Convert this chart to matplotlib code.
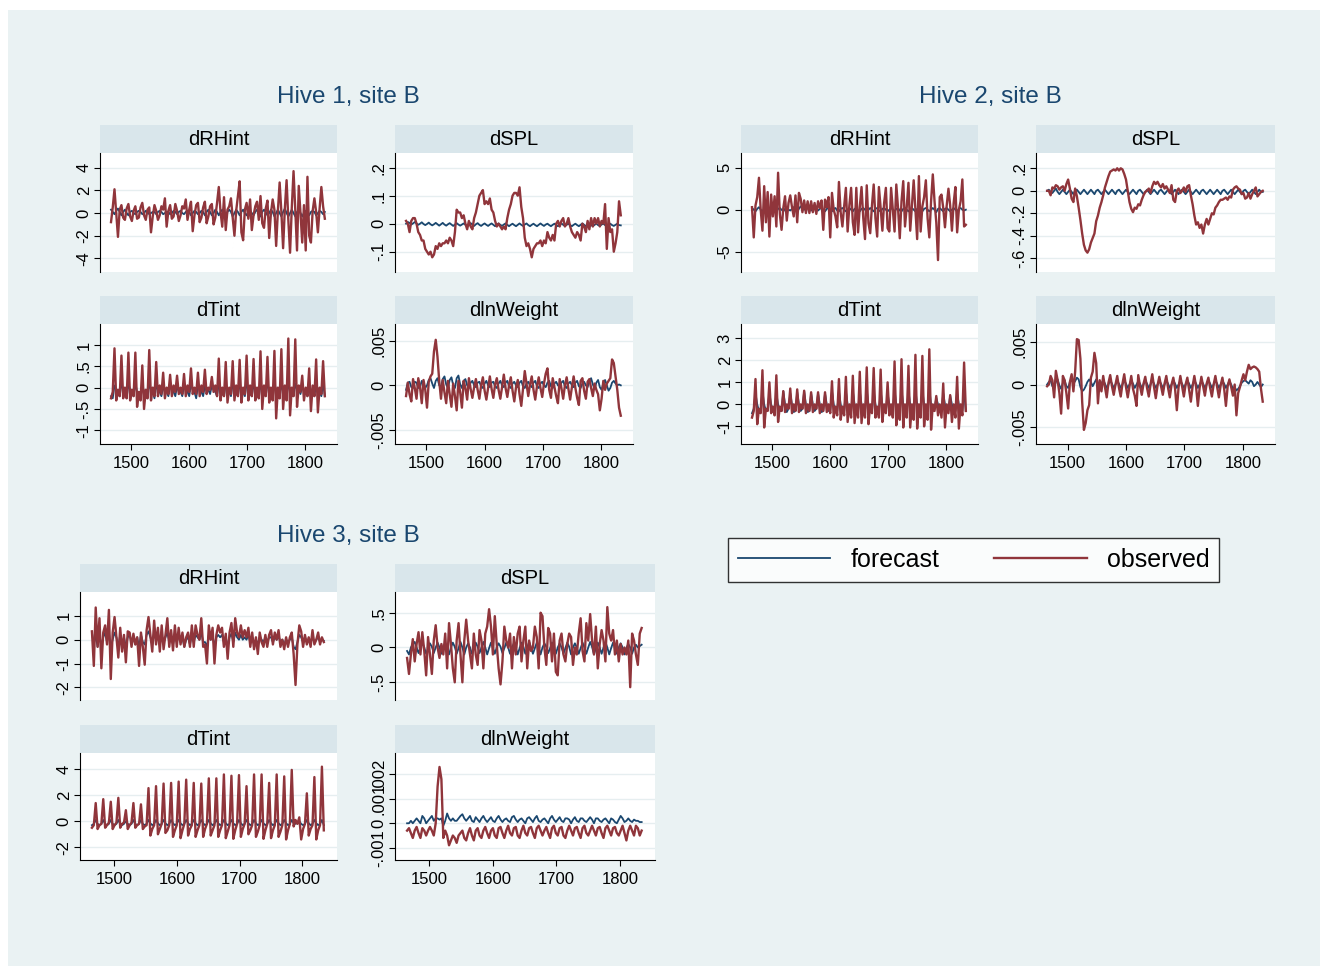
import matplotlib
matplotlib.use("Agg")
import matplotlib.pyplot as plt
from matplotlib.lines import Line2D
from matplotlib.patches import Rectangle
import numpy as np

plt.rcParams['font.family'] = ['Liberation Sans', 'DejaVu Sans']

W, H = 1322, 968
BG = "#eaf2f3"
STRIP = "#d9e6eb"
GRID = "#e6eef0"
C_FC = "#1a476f"
C_OB = "#90353b"

time = list(range(1465, 1835, 3))  # 124 observations

# ---------------- Hive 1 ----------------
h1_drhint_obs = [
 -0.8, 0.5, 2.1, 0.0, -2.1, 0.3, 0.7, -0.4, -0.6, 0.4, 0.8, -0.3, -0.7, 0.2, 0.6, -0.5,
 -0.4, 0.5, 0.9, -0.2, -0.6, 0.3, 0.5, -1.7, -0.3, 0.7, 0.2, -0.6, -0.2, 0.6, 0.3, 1.3,
 -1.2, 0.2, 0.7, -0.5, -0.3, 0.8, 0.2, -0.7, -0.2, 0.6, 0.4, 1.2, -0.6, 0.3, 1.0, -1.6,
 -0.2, 0.7, 0.9, -0.8, -0.4, 0.5, 1.0, -0.9, -0.3, 0.6, 0.8, -1.0, -0.4, 0.9, 2.3, 0.1,
 -1.2, 1.4, -1.5, 0.3, 0.6, 1.3, -0.4, -2.0, 0.2, 1.5, 2.8, -1.7, -2.4, 0.3, 0.9, -0.5,
 1.2, -1.5, -0.2, 0.6, 1.0, -0.6, 1.5, -0.9, -1.3, 0.4, 1.1, -2.2, 0.0, 1.2, 0.3, -2.9,
 0.2, 2.7, 0.1, -3.1, 0.4, 2.9, -0.6, -3.5, 0.5, 3.7, 0.3, -3.3, 2.4, 0.0, -2.6, 0.7,
 -3.3, 3.2, -2.0, -2.6, 0.2, 1.3, 0.1, -1.7, 0.4, 2.3, 0.6, -0.5]
h1_drhint_fc = [
 0.3, 0.1, -0.1, 0.2, 0.4, 0.1, -0.2, 0.1, 0.3, 0.0, -0.2, 0.1, 0.2, 0.0, -0.1, 0.1,
 0.2, 0.1, -0.1, 0.0, 0.2, 0.1, -0.1, 0.0, 0.1, 0.1, -0.1, 0.1, 0.2, 0.1, -0.1, 0.0,
 0.1, 0.1, -0.1, 0.0, 0.2, 0.1, -0.1, 0.1, 0.2, 0.0, -0.1, 0.1, 0.2, 0.1, -0.2, 0.0,
 0.2, 0.1, -0.1, 0.0, 0.2, 0.1, -0.2, 0.1, 0.3, 0.1, -0.2, 0.0, 0.3, 0.1, -0.2, 0.1,
 0.3, 0.0, -0.2, 0.1, 0.3, 0.1, -0.3, 0.0, 0.3, 0.1, -0.2, 0.1, 0.3, 0.0, -0.2, 0.1,
 0.2, 0.0, -0.2, 0.1, 0.3, 0.0, -0.3, 0.1, 0.3, 0.1, -0.2, 0.0, 0.3, 0.1, -0.3, 0.0,
 0.3, 0.0, -0.3, 0.1, 0.4, 0.0, -0.3, 0.0, 0.3, 0.0, -0.3, 0.1, 0.3, 0.0, -0.3, 0.0,
 0.2, 0.0, -0.2, 0.1, 0.2, 0.1, -0.2, 0.0, 0.2, 0.1, -0.1, 0.1]
h1_dspl_obs = [
 0.01, 0.00, -0.03, 0.01, 0.02, 0.02, 0.00, -0.03, -0.04, -0.06, -0.06, -0.09,
 -0.10, -0.11, -0.10, -0.12, -0.11, -0.08, -0.09, -0.07, -0.08, -0.07, -0.07, -0.06,
 -0.07, -0.05, -0.06, -0.08, -0.03, 0.05, 0.04, 0.04, 0.02, 0.03, 0.00, -0.02,
 0.01, -0.01, -0.02, 0.02, 0.04, 0.07, 0.10, 0.11, 0.12, 0.07, 0.08, 0.07,
 0.09, 0.05, 0.04, 0.01, -0.01, 0.00, -0.01, -0.02, -0.01, -0.02, 0.02, 0.05,
 0.07, 0.10, 0.11, 0.11, 0.10, 0.13, 0.06, 0.02, -0.05, -0.08, -0.07, -0.09,
 -0.12, -0.09, -0.08, -0.07, -0.07, -0.06, -0.08, -0.06, -0.07, -0.03, -0.05, -0.06,
 -0.04, -0.06, 0.00, 0.01, -0.01, 0.01, 0.02, -0.01, 0.00, 0.02, -0.01, -0.03,
 -0.04, -0.05, -0.03, -0.04, -0.06, 0.00, -0.01, -0.03, 0.01, -0.02, 0.02, -0.01,
 0.02, 0.00, 0.02, -0.01, 0.01, 0.00, 0.07, -0.09, 0.02, -0.03, -0.02, -0.10,
 -0.07, -0.03, 0.08, 0.03]
h1_dspl_fc = [
 0.000, 0.006, 0.003, -0.003, 0.001, 0.006, 0.001, -0.004, 0.000, 0.005, -0.001, -0.005,
 -0.001, 0.004, -0.002, -0.006, -0.002, 0.003, -0.002, -0.007, -0.002, 0.003, -0.003, -0.007,
 -0.002, 0.002, -0.003, -0.008, -0.003, 0.002, -0.003, -0.007, -0.003, 0.001, -0.004, -0.008,
 -0.003, 0.002, -0.003, -0.008, -0.002, 0.002, -0.004, -0.008, -0.003, 0.001, -0.004, -0.008,
 -0.003, 0.001, -0.004, -0.009, -0.004, 0.001, -0.004, -0.008, -0.003, 0.001, -0.004, -0.009,
 -0.004, 0.000, -0.005, -0.009, -0.004, 0.001, -0.004, -0.008, -0.003, 0.001, -0.005, -0.009,
 -0.004, 0.000, -0.005, -0.009, -0.004, 0.001, -0.004, -0.008, -0.003, 0.000, -0.005, -0.009,
 -0.004, 0.000, -0.005, -0.009, -0.004, 0.001, -0.004, -0.008, -0.004, 0.000, -0.005, -0.009,
 -0.004, 0.000, -0.005, -0.009, -0.004, 0.001, -0.004, -0.009, -0.004, 0.000, -0.005, -0.009,
 -0.004, 0.000, -0.005, -0.008, -0.003, 0.000, -0.005, -0.009, -0.004, 0.000, -0.005, -0.008,
 -0.004, 0.000, -0.005, -0.006]
h1_dtint_obs = [
 -0.25, -0.1, 0.92, -0.3, -0.05, -0.2, 0.75, -0.25, 0.0, -0.25, 0.82, -0.3,
 -0.05, -0.2, 0.82, -0.45, -0.1, -0.3, 0.52, -0.5, -0.05, -0.25, 0.88, -0.3,
 0.0, -0.2, 0.6, -0.2, 0.05, -0.15, 0.35, -0.25, 0.0, -0.15, 0.3, -0.2,
 0.05, -0.1, 0.28, -0.15, 0.0, -0.15, 0.32, -0.2, 0.05, -0.1, 0.45, -0.15,
 0.0, -0.15, 0.35, -0.2, 0.05, -0.1, 0.42, -0.15, 0.0, -0.05, 0.25, -0.1,
 0.05, -0.2, 0.68, -0.3, 0.0, -0.2, 0.6, -0.35, 0.0, -0.15, 0.62, -0.3,
 0.05, -0.2, 0.65, -0.35, 0.0, -0.15, 0.75, -0.3, 0.05, -0.2, 0.67, -0.3,
 0.0, -0.25, 0.85, -0.5, 0.05, -0.2, 0.72, -0.35, 0.0, -0.3, 0.86, -0.72,
 0.0, -0.25, 0.9, -0.5, 0.05, -0.3, 1.15, -0.65, 0.0, -0.2, 1.13, -0.45,
 0.05, -0.1, 0.28, -0.3, 0.0, -0.2, 0.45, -0.55, 0.05, -0.2, 0.66, -0.58,
 0.0, -0.15, 0.62, -0.2]
h1_dtint_fc = [
 -0.2, -0.25, 0.05, -0.05, -0.15, -0.2, 0.1, -0.05, -0.15, -0.25, 0.1, -0.05,
 -0.15, -0.2, 0.1, -0.1, -0.15, -0.25, 0.05, -0.1, -0.15, -0.25, 0.1, -0.05,
 -0.1, -0.25, 0.05, -0.05, -0.1, -0.2, 0.05, -0.1, -0.1, -0.2, 0.05, -0.05,
 -0.1, -0.2, 0.05, -0.1, -0.1, -0.2, 0.05, -0.05, -0.1, -0.2, 0.1, -0.05,
 -0.1, -0.25, 0.05, -0.05, -0.1, -0.2, 0.05, -0.1, -0.05, -0.15, 0.05, -0.05,
 -0.1, -0.2, 0.1, -0.05, -0.1, -0.2, 0.1, -0.1, -0.1, -0.2, 0.1, -0.05,
 -0.1, -0.2, 0.1, -0.1, -0.1, -0.2, 0.1, -0.05, -0.1, -0.2, 0.1, -0.1,
 -0.1, -0.25, 0.1, -0.1, -0.1, -0.2, 0.1, -0.05, -0.1, -0.25, 0.15, -0.1,
 -0.1, -0.25, 0.1, -0.1, -0.1, -0.25, 0.15, -0.1, -0.1, -0.2, 0.1, -0.05,
 -0.05, -0.15, 0.05, -0.1, -0.1, -0.2, 0.1, -0.1, -0.1, -0.2, 0.1, -0.05,
 -0.1, -0.2, 0.1, -0.2]
# dlnWeight values in units of 0.001
h1_dlnw_obs_e3 = [
 -1.2, 0.3, -1.0, -1.8, 0.7, -0.3, -1.5, 0.8, -0.2, -2.0, 0.6, -0.5,
 -2.5, 0.4, 1.0, 1.3, 3.8, 5.1, 3.2, 0.5, -1.5, 0.6, -0.8, -2.0,
 0.5, -1.0, -2.4, 0.2, -1.2, -2.8, 0.5, -0.8, -2.5, 0.5, -0.3, -1.6,
 0.8, -0.4, -1.4, -0.2, 0.7, -0.5, -1.5, 0.0, 0.9, -0.6, -1.6, -0.3,
 1.0, -0.4, -1.4, 0.1, 0.8, -0.5, -1.5, -0.2, 1.2, -0.3, -1.3, 0.0,
 0.9, -0.6, -1.8, -0.2, 0.6, -1.0, -2.3, -0.4, 1.6, 0.2, -1.2, 0.1,
 1.0, -0.5, -1.6, -0.1, 0.9, -0.3, -1.3, 0.2, 1.3, 1.9, -0.5, -1.4,
 0.8, -0.2, -1.2, -2.0, 0.7, -0.3, -1.5, 0.0, 0.9, -0.4, -1.6, -0.2,
 1.0, -0.3, -1.4, -2.2, 0.5, 0.8, -0.6, -1.5, 0.4, 0.7, -0.3, -1.2,
 0.2, -0.5, -1.0, -2.8, -1.5, 0.5, -0.5, 0.2, 0.5, 0.8, 2.9, 2.5,
 1.0, -0.5, -2.5, -3.4]
h1_dlnw_fc_e3 = [
 -0.5, 0.3, 0.4, -0.2, -0.3, 0.4, 0.3, -0.3, -0.2, 0.5, 0.2, -0.3,
 0.0, 0.6, 0.8, 0.2, -0.3, 0.5, 0.8, 0.0, -0.2, 0.7, 1.0, 0.1,
 -0.3, 0.6, 0.9, 0.0, -0.3, 0.8, 1.1, 0.1, -0.3, 0.5, 0.7, 0.0,
 -0.3, 0.3, 0.5, 0.0, -0.2, 0.3, 0.4, -0.1, -0.3, 0.2, 0.5, 0.0,
 -0.2, 0.3, 0.4, -0.1, -0.3, 0.2, 0.5, 0.0, -0.2, 0.3, 0.5, -0.1,
 -0.3, 0.2, 0.4, 0.0, -0.2, 0.3, 0.5, -0.1, -0.3, 0.2, 0.4, 0.0,
 -0.2, 0.3, 0.5, -0.1, -0.3, 0.2, 0.4, 0.0, -0.2, 0.3, 0.5, -0.1,
 -0.3, 0.2, 0.4, 0.0, -0.2, 0.3, 0.5, -0.1, -0.3, 0.2, 0.4, 0.0,
 -0.2, 0.3, 0.5, -0.1, -0.3, 0.2, 0.4, 0.0, -0.2, 0.5, 0.8, 0.1,
 -0.4, 0.3, 0.6, -0.2, -0.5, 0.2, 0.6, 0.0, -0.6, -0.3, 0.3, 0.5,
 0.2, 0.0, 0.1, 0.0]

# ---------------- Hive 2 ----------------
h2_drhint_obs = [
 0.3, -3.3, 0.5, 1.5, 3.8, 0.0, -2.5, 2.8, -1.5, 2.1, -3.2, 1.8,
 -0.8, 1.6, -2.0, 4.4, -0.5, -2.4, 0.2, 1.6, -1.3, 0.8, 1.7, 0.3,
 -0.8, 1.7, -1.5, 2.0, 1.3, -0.3, 1.1, -0.4, 1.0, -0.4, 1.0, -0.3,
 0.8, -0.5, 1.0, 0.2, 1.1, -2.4, 1.2, 0.3, 1.5, -3.3, 2.0, 0.0,
 -0.8, -2.1, 3.3, -0.3, -2.0, 0.4, 2.6, -2.6, 0.5, 2.6, -1.5, -3.0,
 2.6, -2.7, 0.3, 2.7, -1.0, -3.5, 2.9, -1.6, -2.8, 0.5, 3.0, -1.0,
 -3.2, 2.7, 0.2, -2.5, 0.8, 2.6, -2.2, -2.6, 2.6, 0.0, -2.6, 3.0,
 0.2, -3.4, 1.0, 3.4, -2.0, 0.3, 3.2, -2.5, 0.5, 3.5, 0.0, -3.5,
 4.0, -2.6, 0.4, 1.5, 3.5, -1.0, -3.3, 1.0, 4.2, 1.0, -1.5, -6.0,
 1.5, 1.8, 0.2, -2.1, 0.5, 2.5, 0.5, -2.5, 0.8, 2.7, -2.7, 0.0,
 1.0, 3.6, -2.0, -1.8]
h2_drhint_fc = [
 0.2, 0.0, -0.2, 0.1, 0.3, 0.0, -0.2, 0.1, 0.2, 0.0, -0.2, 0.0,
 0.2, -0.1, -0.2, 0.1, 0.2, 0.0, -0.2, 0.1, 0.2, 0.0, -0.1, 0.1,
 0.3, 0.1, -0.1, 0.1, 0.4, 0.2, 0.0, 0.2, 0.3, 0.1, -0.1, 0.1,
 0.3, 0.0, -0.1, 0.1, 0.2, 0.0, -0.2, 0.1, 0.2, 0.0, -0.2, 0.1,
 0.2, -0.1, -0.2, 0.1, 0.2, 0.0, -0.2, 0.0, 0.2, 0.0, -0.2, 0.1,
 0.2, -0.1, -0.2, 0.1, 0.2, 0.0, -0.2, 0.0, 0.2, 0.0, -0.2, 0.1,
 0.2, -0.1, -0.2, 0.1, 0.2, 0.0, -0.2, 0.0, 0.2, 0.0, -0.2, 0.1,
 0.2, -0.1, -0.2, 0.1, 0.2, 0.0, -0.2, 0.0, 0.2, 0.0, -0.2, 0.1,
 0.2, -0.1, -0.2, 0.1, 0.2, 0.0, -0.2, 0.0, 0.2, 0.0, -0.3, 0.1,
 0.2, 0.0, -0.2, 0.1, 0.2, 0.0, -0.2, 0.0, 0.2, 0.0, -0.2, 0.1,
 0.2, 0.0, -0.1, 0.0]
h2_dspl_obs = [
 0.00, 0.00, -0.04, 0.03, 0.02, 0.05, 0.04, 0.01, 0.03, 0.04, 0.00, 0.06,
 0.10, 0.02, -0.07, -0.10, 0.02, -0.05, -0.15, -0.26, -0.38, -0.48, -0.53, -0.55,
 -0.52, -0.46, -0.42, -0.38, -0.27, -0.22, -0.15, -0.10, -0.04, 0.03, 0.08, 0.13,
 0.17, 0.18, 0.19, 0.18, 0.20, 0.18, 0.20, 0.19, 0.15, 0.10, 0.00, -0.10,
 -0.16, -0.19, -0.15, -0.16, -0.12, -0.13, -0.08, -0.04, -0.01, 0.00, 0.02, -0.02,
 0.04, 0.08, 0.06, 0.08, 0.05, 0.03, 0.06, 0.02, 0.04, 0.01, -0.02, 0.05,
 -0.08, -0.10, 0.00, 0.02, -0.02, 0.00, 0.03, -0.01, 0.04, 0.05, -0.04, -0.12,
 -0.22, -0.30, -0.28, -0.33, -0.30, -0.38, -0.30, -0.25, -0.30, -0.25, -0.20, -0.21,
 -0.15, -0.13, -0.10, -0.08, -0.08, -0.07, -0.06, -0.08, -0.05, -0.06, 0.01, 0.03,
 0.04, 0.02, 0.01, -0.03, -0.02, -0.07, -0.06, -0.02, -0.07, -0.03, 0.00, 0.03,
 -0.05, -0.03, -0.01, 0.00]
h2_dspl_fc = [
 0.00, 0.01, -0.01, -0.02, 0.00, 0.02, -0.01, -0.03, -0.01, 0.01, -0.01, -0.03,
 -0.01, 0.01, -0.01, -0.03, 0.00, 0.01, -0.01, -0.03, -0.01, 0.01, -0.01, -0.03,
 -0.01, 0.01, -0.01, -0.03, 0.00, 0.01, -0.01, -0.03, -0.01, 0.01, -0.01, -0.03,
 -0.01, 0.01, -0.01, -0.03, 0.00, 0.01, -0.01, -0.03, -0.01, 0.01, -0.01, -0.03,
 -0.01, 0.01, -0.01, -0.03, 0.00, 0.01, -0.01, -0.03, -0.01, 0.01, -0.01, -0.03,
 -0.01, 0.01, -0.01, -0.03, 0.00, 0.01, -0.01, -0.03, -0.01, 0.01, -0.01, -0.03,
 -0.01, 0.01, -0.01, -0.03, 0.00, 0.01, -0.01, -0.03, -0.01, 0.01, -0.01, -0.03,
 -0.01, 0.01, -0.01, -0.03, 0.00, 0.01, -0.01, -0.03, -0.01, 0.01, -0.01, -0.03,
 -0.01, 0.01, -0.01, -0.03, 0.00, 0.01, -0.01, -0.03, -0.01, 0.01, -0.01, -0.03,
 -0.01, 0.01, -0.01, -0.03, 0.00, 0.01, -0.01, -0.03, -0.01, 0.01, -0.01, -0.03,
 -0.01, 0.01, -0.01, -0.01]
h2_dtint_obs = [
 -0.6, -0.3, 1.15, -0.9, -0.2, -0.4, 1.55, -1.05, -0.2, -0.3, 1.0, -0.4,
 -0.1, -0.5, 1.32, -0.8, -0.1, -0.3, 0.6, -0.35, 0.0, -0.2, 0.72, -0.4,
 0.0, -0.3, 0.68, -0.35, 0.0, -0.2, 0.62, -0.4, 0.0, -0.3, 0.55, -0.35,
 0.0, -0.2, 0.55, -0.4, 0.0, -0.3, 0.55, -0.35, 0.0, -0.4, 1.05, -0.6,
 -0.1, -0.5, 1.15, -0.7, -0.1, -0.5, 1.25, -0.8, 0.0, -0.6, 1.3, -0.85,
 0.0, -0.6, 1.48, -0.85, 0.0, -0.6, 1.68, -0.9, 0.0, -0.4, 1.65, -0.6,
 -0.1, -0.6, 1.58, -0.8, 0.0, -0.4, 1.0, -0.5, 0.0, -0.6, 1.95, -0.95,
 0.0, -0.7, 2.05, -1.05, 0.0, -0.6, 1.75, -1.05, 0.0, -0.7, 2.25, -1.1,
 0.0, -0.6, 2.2, -1.0, 0.0, -0.7, 2.5, -1.15, 0.0, -0.3, 0.38, -0.5,
 0.0, -0.6, 0.95, -1.05, 0.0, -0.4, 0.42, -0.8, 0.0, -0.6, 1.25, -1.1,
 0.0, -0.5, 1.9, -0.3]
h2_dtint_fc = [
 -0.4, -0.2, 0.5, 0.0, -0.3, -0.3, 0.6, 0.0, -0.3, -0.2, 0.5, 0.0,
 -0.3, -0.3, 0.5, 0.0, -0.3, -0.3, 0.6, 0.0, -0.35, -0.2, 0.5, 0.0,
 -0.35, -0.3, 0.55, 0.0, -0.3, -0.2, 0.6, 0.0, -0.35, -0.3, 0.5, 0.0,
 -0.3, -0.2, 0.5, 0.0, -0.35, -0.3, 0.5, 0.0, -0.3, -0.3, 0.6, 0.0,
 -0.35, -0.3, 0.6, 0.0, -0.35, -0.3, 0.6, 0.0, -0.35, -0.3, 0.6, 0.0,
 -0.35, -0.3, 0.6, 0.0, -0.35, -0.3, 0.65, 0.0, -0.35, -0.3, 0.6, 0.0,
 -0.35, -0.3, 0.6, 0.0, -0.3, -0.3, 0.5, 0.0, -0.35, -0.3, 0.65, 0.0,
 -0.35, -0.35, 0.65, 0.0, -0.35, -0.3, 0.6, 0.0, -0.35, -0.35, 0.65, 0.0,
 -0.35, -0.3, 0.65, 0.0, -0.35, -0.35, 0.7, 0.0, -0.3, -0.2, 0.3, 0.0,
 -0.35, -0.3, 0.5, 0.0, -0.3, -0.2, 0.4, 0.0, -0.35, -0.3, 0.5, 0.0,
 -0.35, -0.3, 0.6, -0.3]
h2_dlnw_obs_e3 = [
 -0.2, 0.0, 1.0, 0.5, -1.5, 1.6, 0.5, -1.0, -3.4, 1.0, 0.5, -1.0,
 -2.8, 0.3, 1.2, -0.8, 1.5, 5.3, 5.2, 3.0, -2.0, -5.3, -4.5, -3.0,
 -2.4, 0.8, 1.5, 3.7, 2.5, -2.2, 0.5, -0.8, 1.0, -0.3, -1.5, 0.2,
 1.1, -0.2, -1.2, 0.0, 1.0, -0.4, -1.4, 0.1, 1.2, -0.3, -1.5, -0.2,
 1.0, -0.5, -1.3, -2.5, 1.1, -0.2, -1.2, 0.1, 0.9, -0.4, -1.4, 0.0,
 1.2, -0.3, -1.6, -0.1, 0.9, -0.2, -1.2, 0.1, 1.0, -0.4, -1.5, 0.0,
 0.8, -0.5, -3.0, -0.3, 1.0, -0.2, -1.4, 0.0, 0.8, -0.6, -2.0, -0.2,
 1.0, -0.3, -2.5, -0.4, 0.9, -0.2, -1.3, 0.1, 0.8, -0.4, -1.4, 0.0,
 1.0, -0.3, -1.5, -0.1, 0.8, -0.5, -2.5, -0.2, 0.6, -0.3, -1.3, 0.0,
 -3.6, -1.0, -0.3, 0.5, 1.2, 0.5, 1.5, 2.3, 1.8, 2.0, 2.1, 2.0,
 1.8, 1.5, -0.5, -2.0]
h2_dlnw_fc_e3 = [
 0.0, 0.3, 0.5, -0.2, -0.4, 0.3, 0.6, -0.1, -0.5, 0.2, 0.5, -0.2,
 -0.4, 0.3, 0.7, 0.1, 0.4, 0.8, 0.6, -0.3, -0.8, -0.6, -0.2, 0.3,
 0.6, 0.3, -0.2, 0.2, 0.6, 0.2, -0.3, 0.1, 0.5, 0.1, -0.4, 0.0,
 0.5, 0.1, -0.4, 0.0, 0.4, 0.1, -0.4, 0.0, 0.5, 0.1, -0.4, 0.0,
 0.5, 0.1, -0.4, 0.0, 0.4, 0.1, -0.4, 0.0, 0.5, 0.1, -0.4, 0.0,
 0.5, 0.1, -0.4, 0.0, 0.4, 0.1, -0.4, 0.0, 0.5, 0.1, -0.4, 0.0,
 0.5, 0.1, -0.4, 0.0, 0.4, 0.1, -0.4, 0.0, 0.5, 0.1, -0.4, 0.0,
 0.5, 0.1, -0.4, 0.0, 0.4, 0.1, -0.4, 0.0, 0.5, 0.1, -0.4, 0.0,
 0.5, 0.1, -0.4, 0.0, 0.4, 0.1, -0.4, 0.0, 0.4, 0.0, -0.5, -0.3,
 -0.7, -0.5, -0.2, 0.2, 0.4, 0.5, 0.3, 0.1, 0.5, 0.3, -0.2, 0.0,
 0.3, 0.0, -0.3, 0.0]

# ---------------- Hive 3 ----------------
h3_drhint_obs = [
 0.35, -1.1, 1.35, -0.3, 0.9, -1.2, 0.3, 0.6, -0.2, 1.25, -1.65, 0.3,
 0.95, 0.1, -0.75, 0.5, -0.5, 0.2, -0.95, 0.35, 0.3, -0.3, 0.25, -0.2,
 0.1, -1.1, 0.3, -0.3, -1.05, 0.4, 0.95, 0.2, -0.5, 0.8, -0.2, 0.5,
 -0.5, 0.6, -0.4, 0.2, 0.9, -0.3, 0.4, -0.45, 0.6, -0.3, 0.5, -0.2,
 0.3, -0.3, 0.1, 0.3, -0.3, 0.6, -0.3, 0.6, 0.2, 0.0, 0.9, -0.3,
 -0.2, -1.0, 0.6, 0.0, 0.5, -1.0, 0.2, 0.6, 0.3, 0.5, -0.3, 0.25,
 -0.8, 0.3, 0.7, -0.3, 0.9, 0.3, 0.1, 0.6, 0.1, 0.4, 0.1, 0.5,
 -0.3, 0.3, -0.4, 0.1, -0.6, 0.3, -0.1, -0.3, 0.2, -0.3, 0.2, 0.4,
 -0.2, 0.3, 0.0, 0.4, -0.3, 0.0, -0.4, 0.1, -0.3, 0.1, 0.3, -0.6,
 -1.9, -0.2, 0.6, 0.35, -0.3, 0.2, -0.2, 0.1, -0.3, 0.4, -0.2, 0.0,
 0.3, -0.2, 0.1, -0.1]
h3_drhint_fc = [
 0.3, -0.2, 0.2, -0.3, 0.2, -0.3, 0.1, 0.3, -0.1, 0.3, -0.3, 0.0,
 0.3, 0.1, -0.3, 0.2, -0.2, 0.1, -0.3, 0.1, 0.2, -0.1, 0.1, -0.2,
 0.1, -0.3, 0.2, -0.1, -0.2, 0.2, 0.35, 0.1, -0.2, 0.3, 0.0, 0.2,
 -0.2, 0.2, -0.1, 0.1, 0.3, -0.1, 0.1, -0.2, 0.2, -0.1, 0.2, -0.1,
 0.1, -0.3, 0.0, 0.1, -0.2, 0.2, -0.1, 0.2, 0.1, 0.0, 0.3, -0.1,
 -0.1, -0.3, 0.2, 0.0, 0.2, -0.3, 0.1, 0.2, 0.1, 0.2, -0.1, 0.1,
 -0.3, 0.1, 0.25, -0.1, 0.3, 0.1, 0.0, 0.2, 0.0, 0.1, 0.0, 0.2,
 -0.1, 0.1, -0.2, 0.0, -0.2, 0.1, 0.0, -0.1, 0.1, -0.1, 0.1, 0.1,
 -0.1, 0.1, 0.0, 0.15, -0.1, 0.0, -0.2, 0.0, -0.1, 0.0, 0.1, -0.3,
 -0.4, -0.1, 0.2, 0.1, -0.1, 0.1, -0.1, 0.0, -0.1, 0.1, -0.1, 0.0,
 0.1, -0.1, 0.0, -0.05]
h3_dspl_obs = [
 -0.15, -0.38, -0.1, 0.12, -0.2, 0.05, 0.22, -0.1, 0.22, -0.05, -0.4, 0.15,
 -0.1, -0.38, 0.1, 0.32, 0.0, -0.15, 0.05, -0.1, 0.2, -0.3, 0.35, 0.05,
 -0.3, -0.5, 0.1, 0.35, -0.1, -0.5, 0.1, 0.4, 0.1, -0.1, -0.3, 0.2,
 -0.1, -0.25, 0.25, 0.1, -0.3, 0.2, 0.3, 0.55, 0.3, -0.1, 0.45, 0.05,
 -0.3, -0.53, -0.2, 0.3, 0.1, 0.0, 0.2, -0.3, 0.15, -0.1, 0.2, 0.3,
 -0.2, 0.1, 0.3, -0.3, 0.1, -0.05, 0.0, 0.3, 0.15, -0.3, 0.5, 0.45,
 0.0, -0.25, 0.28, 0.2, -0.2, 0.2, -0.35, -0.4, 0.1, 0.2, -0.1, -0.2,
 0.05, 0.2, 0.15, -0.25, 0.0, -0.1, 0.2, 0.42, -0.05, -0.2, 0.35, 0.1,
 0.48, 0.1, -0.1, 0.3, -0.3, 0.05, 0.25, 0.1, -0.2, 0.58, 0.2, 0.1,
 0.25, -0.1, 0.1, -0.2, 0.05, -0.1, 0.0, -0.1, 0.1, -0.57, 0.2, 0.1,
 -0.1, -0.25, 0.2, 0.28]
h3_dspl_fc = [
 -0.05, -0.1, 0.0, 0.05, 0.08, 0.0, -0.08, 0.0, 0.07, 0.0, -0.09, -0.02,
 0.06, 0.01, -0.08, 0.0, 0.07, 0.0, -0.09, -0.01, 0.06, 0.0, -0.1, 0.0,
 0.07, 0.01, -0.09, -0.01, 0.08, 0.0, -0.1, 0.0, 0.06, 0.0, -0.09, -0.01,
 0.07, 0.01, -0.08, 0.0, 0.08, 0.0, -0.1, -0.01, 0.07, 0.0, -0.09, 0.0,
 0.06, 0.01, -0.08, -0.01, 0.07, 0.0, -0.09, 0.0, 0.06, 0.0, -0.1, -0.01,
 0.07, 0.01, -0.09, 0.0, 0.08, 0.0, -0.09, -0.01, 0.07, 0.0, -0.1, 0.0,
 0.06, 0.01, -0.08, -0.01, 0.07, 0.0, -0.09, 0.0, 0.06, 0.0, -0.09, -0.01,
 0.07, 0.01, -0.1, 0.0, 0.06, 0.0, -0.09, -0.01, 0.07, 0.0, -0.09, 0.0,
 0.08, 0.01, -0.1, -0.01, 0.07, 0.0, -0.09, 0.0, 0.08, 0.0, -0.1, -0.01,
 0.07, 0.01, -0.09, 0.0, 0.06, 0.0, -0.1, -0.01, 0.05, 0.0, -0.09, 0.0,
 0.04, 0.0, 0.02, 0.04]
h3_dtint_obs = [
 -0.5, -0.3, 1.4, -0.6, -0.3, -0.2, 1.7, -0.5, -0.3, -0.1, 1.5, -0.6,
 -0.3, -0.1, 1.8, -0.5, -0.2, -0.1, 0.85, -0.6, -0.3, -0.1, 1.4, -0.5,
 -0.3, -0.2, 1.3, -0.6, -0.4, -0.3, 2.55, -1.1, -0.6, -0.3, 2.7, -1.0,
 -0.6, -0.2, 2.9, -0.9, -0.7, -0.3, 2.95, -1.2, -0.7, -0.3, 3.05, -1.3,
 -0.7, -0.2, 3.2, -1.1, -0.6, -0.3, 2.95, -1.2, -0.7, -0.3, 2.9, -1.2,
 -0.6, -0.2, 3.3, -1.1, -0.7, -0.3, 3.3, -1.2, -0.7, -0.3, 3.6, -1.3,
 -0.8, -0.3, 3.5, -1.35, -0.7, -0.2, 3.55, -1.2, -0.6, -0.2, 2.7, -1.0,
 -0.7, -0.3, 3.6, -1.2, -0.8, -0.3, 3.6, -1.35, -0.7, -0.2, 2.95, -1.3,
 -0.7, -0.3, 3.6, -1.2, -0.8, -0.3, 3.45, -1.4, -0.7, -0.2, 3.95, -0.4,
 0.1, -0.2, 0.3, -1.4, -0.6, -0.2, 2.15, -1.1, -0.6, -0.3, 3.4, -1.4,
 -0.7, -0.3, 4.2, -0.7]
h3_dtint_fc = [
 -0.3, -0.2, 0.1, -0.2, -0.3, -0.2, 0.1, -0.2, -0.3, -0.2, 0.1, -0.2,
 -0.3, -0.2, 0.1, -0.2, -0.3, -0.2, 0.0, -0.2, -0.3, -0.2, 0.1, -0.2,
 -0.3, -0.2, 0.1, -0.2, -0.3, -0.2, 0.1, -0.15, -0.3, -0.2, 0.1, -0.15,
 -0.3, -0.2, 0.1, -0.15, -0.3, -0.2, 0.1, -0.15, -0.3, -0.2, 0.1, -0.15,
 -0.3, -0.2, 0.1, -0.15, -0.3, -0.2, 0.1, -0.15, -0.3, -0.2, 0.1, -0.15,
 -0.3, -0.2, 0.1, -0.15, -0.3, -0.2, 0.1, -0.15, -0.3, -0.2, 0.1, -0.15,
 -0.3, -0.2, 0.1, -0.15, -0.3, -0.2, 0.1, -0.15, -0.3, -0.2, 0.1, -0.15,
 -0.3, -0.2, 0.1, -0.15, -0.3, -0.2, 0.1, -0.15, -0.3, -0.2, 0.1, -0.15,
 -0.3, -0.2, 0.1, -0.15, -0.3, -0.2, 0.1, -0.15, -0.3, -0.2, 0.1, -0.15,
 -0.2, -0.1, 0.0, -0.2, -0.3, -0.2, 0.1, -0.15, -0.3, -0.2, 0.1, -0.15,
 -0.3, -0.2, 0.1, -0.3]
# dlnWeight values in units of 0.0001
h3_dlnw_obs_e4 = [
 -3, -2, -4, -6, -3, -1.5, -4, -6, -2, -3, -5, -3,
 -1.5, -3, -5, 0, 15, 23, 18, -6, -3, -5, -9, -7,
 -5, -6, -8, -5, -4, -3, -6, -7, -4, -2, -5, -7,
 -3, -2, -5, -6, -3, -1.5, -4, -6, -3, -2, -5, -6,
 -2, -1.5, -4, -6, -3, -1, -4, -5, -2, -1.5, -5, -6,
 -3, -1, -4, -5, -2, -1.5, -4, -6, -2, -1, -3, -5,
 -3, -1.5, -4, -6, -2, -1, -4, -5, -2, -1.5, -5, -6,
 -3, -1, -3, -5, -2, -1.5, -4, -6, -2, -1, -4, -5,
 -3, -1, -3, -5, -2, -1.5, -4, -6, -2, -1, -3, -5,
 -2, -1.5, -4, -5, -3, -1, -4, -7, -3, -1, -3, -5,
 -1, -2, -5, -3]
h3_dlnw_fc_e4 = [
 0, 0, 1, 0, 1, 2, 1, 0, 3, 2, 0, 1,
 2, 3, 1, 2, 2, 1.5, 2, -1, 1, 4, 2, 1,
 2, 1, 1, 2, 3, 3.7, 2, 1, 2, 3, 1, 0.5,
 2.5, 1.5, 0.5, 2, 3, 1.5, 0.5, 1.5, 2.5, 1, 0.5, 2,
 3, 1.5, 0.5, 1.5, 2, 1, 0.5, 2.5, 3, 1.5, 0.5, 1.5,
 2, 1, 0, 2, 2.5, 1.5, 0.5, 2, 3, 1, 0.5, 1.5,
 2, 1, 0, 2, 3, 1.5, 0.5, 1.5, 2.5, 1, 0.5, 2,
 2, 1.5, 0, 1.5, 2.5, 1, 0.5, 2, 2, 1, 0.5, 1.5,
 2.5, 1.5, 0, 2, 2, 1, 0.5, 1.5, 2, 1, 0, 2,
 1.5, 0.5, 0, 1.5, 3, 2, 0.5, 1, 2, 1, 0.5, 1.5,
 1, 1, 0.5, 0.5]

x_ticks = [1500, 1600, 1700, 1800]
x_range = (1446, 1855)

fig = plt.figure(figsize=(W / 100, H / 100), dpi=100)
fig.patch.set_facecolor("white")
fig.add_artist(Rectangle((8 / W, 1 - 966 / H), (1320 - 8) / W, (966 - 10) / H,
                         transform=fig.transFigure, facecolor=BG, edgecolor="none", zorder=0))


def rect(x0, y0, x1, y1):
    return [x0 / W, 1 - y1 / H, (x1 - x0) / W, (y1 - y0) / H]


def panel(box, strip_top, name, obs, fc, yticks, ylabels, ylim, bottom, scale=1.0):
    x0, y0, x1, y1 = box
    sax = fig.add_axes(rect(x0, strip_top, x1, y0))
    sax.set_facecolor(STRIP)
    sax.set_xticks([]); sax.set_yticks([])
    for s in sax.spines.values():
        s.set_visible(False)
    sax.text(0.5, 0.47, name, ha="center", va="center", fontsize=14.5, color="black",
             transform=sax.transAxes)

    ax = fig.add_axes(rect(*box))
    ax.set_facecolor("white")
    ax.plot(time, np.asarray(fc) * scale, color=C_FC, lw=1.3, zorder=3)
    ax.plot(time, np.asarray(obs) * scale, color=C_OB, lw=1.7, zorder=4)
    ax.set_xlim(*x_range)
    ax.set_ylim(*ylim)
    ax.set_yticks(yticks)
    ax.set_yticklabels(ylabels, rotation=90, va="center", fontsize=12)
    ax.grid(axis="y", color=GRID, lw=1.0)
    ax.set_axisbelow(True)
    for s in ["top", "right"]:
        ax.spines[s].set_visible(False)
    ax.spines["left"].set_color("black")
    ax.spines["left"].set_linewidth(0.8)
    ax.tick_params(axis="y", length=4, width=0.8, pad=2)
    if bottom:
        ax.spines["bottom"].set_color("black")
        ax.spines["bottom"].set_linewidth(0.8)
        ax.set_xticks(x_ticks)
        ax.set_xticklabels([str(v) for v in x_ticks], fontsize=12)
        ax.tick_params(axis="x", length=4, width=0.8, pad=5)
    else:
        ax.spines["bottom"].set_visible(False)
        ax.set_xticks([])
    return ax


# Hive 1
panel((100, 153, 337, 272), 125, "dRHint", h1_drhint_obs, h1_drhint_fc,
      [-4, -2, 0, 2, 4], ["-4", "-2", "0", "2", "4"], (-5.2, 5.3), False)
panel((395, 153, 633, 272), 125, "dSPL", h1_dspl_obs, h1_dspl_fc,
      [-0.1, 0, 0.1, 0.2], ["-.1", "0", ".1", ".2"], (-0.1725, 0.2525), False)
panel((100, 324, 337, 444), 296, "dTint", h1_dtint_obs, h1_dtint_fc,
      [-1, -0.5, 0, 0.5, 1], ["-1", "-.5", "0", ".5", "1"], (-1.32, 1.49), True)
panel((395, 324, 633, 444), 296, "dlnWeight", h1_dlnw_obs_e3, h1_dlnw_fc_e3,
      [-0.005, 0, 0.005], ["-.005", "0", ".005"], (-0.00657, 0.00687), True, scale=1e-3)

# Hive 2
panel((741, 153, 978, 272), 125, "dRHint", h2_drhint_obs, h2_drhint_fc,
      [-5, 0, 5], ["-5", "0", "5"], (-7.42, 6.75), False)
panel((1036, 153, 1275, 272), 125, "dSPL", h2_dspl_obs, h2_dspl_fc,
      [-0.6, -0.4, -0.2, 0, 0.2], ["-.6", "-.4", "-.2", "0", ".2"], (-0.722, 0.336), False)
panel((741, 324, 978, 444), 296, "dTint", h2_dtint_obs, h2_dtint_fc,
      [-1, 0, 1, 2, 3], ["-1", "0", "1", "2", "3"], (-1.8, 3.65), True)
panel((1036, 324, 1275, 444), 296, "dlnWeight", h2_dlnw_obs_e3, h2_dlnw_fc_e3,
      [-0.005, 0, 0.005], ["-.005", "0", ".005"], (-0.00695, 0.00707), True, scale=1e-3)

# Hive 3
panel((80, 592, 337, 700), 564, "dRHint", h3_drhint_obs, h3_drhint_fc,
      [-2, -1, 0, 1], ["-2", "-1", "0", "1"], (-2.53, 2.0), False)
panel((395, 592, 655, 700), 564, "dSPL", h3_dspl_obs, h3_dspl_fc,
      [-0.5, 0, 0.5], ["-.5", "0", ".5"], (-0.754, 0.797), False)
panel((80, 753, 337, 860), 725, "dTint", h3_dtint_obs, h3_dtint_fc,
      [-2, 0, 2, 4], ["-2", "0", "2", "4"], (-2.98, 5.25), True)
panel((395, 753, 655, 860), 725, "dlnWeight", h3_dlnw_obs_e4, h3_dlnw_fc_e4,
      [-0.001, 0, 0.001, 0.002], ["-.001", "0", ".001", ".002"], (-0.0015, 0.00287), True,
      scale=1e-4)

# Titles
title_kw = dict(ha="center", va="center", fontsize=17.5, color=C_FC)
fig.text(348 / W, 1 - 97 / H, "Hive 1, site B", **title_kw)
fig.text(990 / W, 1 - 97 / H, "Hive 2, site B", **title_kw)
fig.text(348 / W, 1 - 536 / H, "Hive 3, site B", **title_kw)

# Legend
handles = [Line2D([], [], color=C_FC, lw=1.3), Line2D([], [], color=C_OB, lw=1.7)]
leg = fig.legend(handles, ["forecast", "observed"], loc="center",
                 bbox_to_anchor=((725 + 1222) / 2 / W, 1 - 560 / H), ncol=2,
                 frameon=True, fancybox=False, fontsize=18, handlelength=3.7,
                 handletextpad=0.8, columnspacing=2.2, borderpad=0.4)
leg.get_frame().set_edgecolor("black")
leg.get_frame().set_linewidth(1.0)
leg.get_frame().set_facecolor("white")

fig.savefig("out.png", dpi=100, facecolor=fig.get_facecolor())
